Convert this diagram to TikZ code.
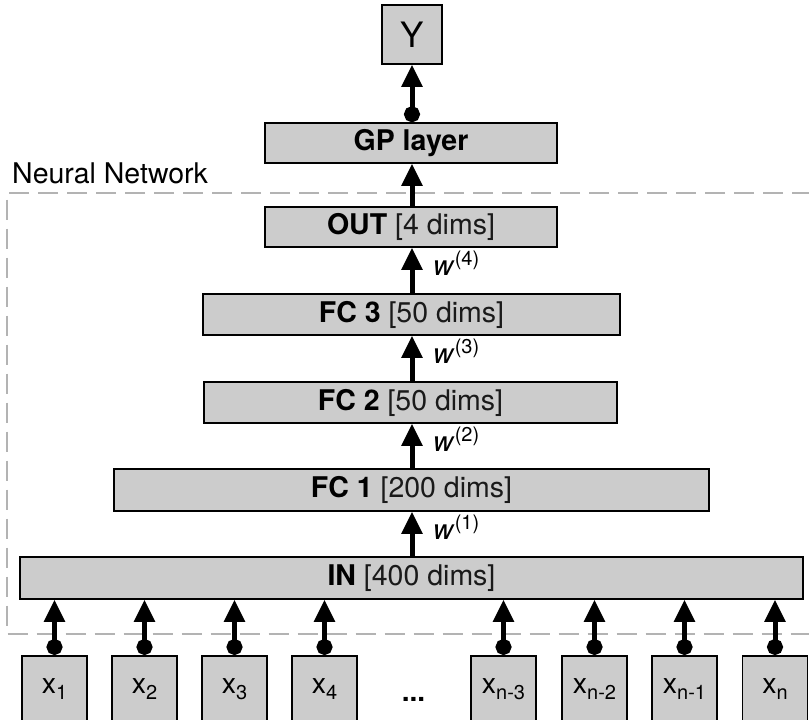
\documentclass[tikz,border=0pt]{standalone}
\usepackage{fontspec}
\setmainfont{TeX Gyre Heros}
\usetikzlibrary{arrows.meta}
\definecolor{boxgray}{HTML}{CCCCCC}
\definecolor{dashgray}{HTML}{B3B3B3}
\definecolor{dimtext}{HTML}{1A1A1A}
\newcommand{\mysub}[1]{\raisebox{-6.5pt}{\fontsize{20}{22}\selectfont #1}}
\newcommand{\mysup}[1]{\raisebox{10pt}{\fontsize{20}{22}\selectfont #1}}
\newcommand{\dims}[1]{\textcolor{dimtext}{#1}}
\begin{document}
\begin{tikzpicture}[x=1pt,y=-1pt,
  box/.style={draw=black, line width=1.5pt, fill=boxgray, inner sep=0pt,
    font=\fontsize{28.5}{32}\selectfont},
  xbox/.style={box, minimum width=65pt, minimum height=67pt, anchor=north},
  conn/.style={line width=5pt, -{Triangle[width=20pt,length=22pt]}},
  dotconn/.style={line width=5pt, {Circle[length=16pt]}-{Triangle[width=20pt,length=22pt]}},
  wlab/.style={anchor=base west, inner sep=0pt, font=\fontsize{28}{32}\selectfont},
  dashline/.style={draw=dashgray, line width=2pt, dash pattern=on 20pt off 9pt}]
\useasboundingbox (0,0) rectangle (809,720);

% dashed frame
\coordinate (ftl) at (7,192.5);
\coordinate (ftr) at (812,192.5);
\coordinate (fbl) at (7,634);
\coordinate (fbr) at (812,634);
\draw[dashline] (ftr) -- (ftl) -- (fbl) -- (fbr);
\node[anchor=base west, inner sep=0pt, font=\fontsize{28.5}{32}\selectfont] (nn) at (12,183) {Neural Network};

% boxes
\node[box, minimum width=60pt, minimum height=59pt, font=\fontsize{35}{38}\selectfont] (Y) at (412,34.5) {Y};
\node[box, minimum width=292pt, minimum height=40pt] (GP) at (411,143) {\textbf{GP layer}};
\node[box, minimum width=292pt, minimum height=40pt] (OUT) at (411,227) {\textbf{OUT} \dims{[4 dims]}};
\node[box, minimum width=417pt, minimum height=41pt] (FC3) at (411.5,314.5) {\textbf{FC 3} \dims{[50 dims]}};
\node[box, minimum width=413pt, minimum height=41pt] (FC2) at (410.5,402.5) {\textbf{FC 2} \dims{[50 dims]}};
\node[box, minimum width=595pt, minimum height=42pt] (FC1) at (411.5,490) {\textbf{FC 1} \dims{[200 dims]}};
\node[box, minimum width=783pt, minimum height=42pt] (IN) at (411.5,578) {\textbf{IN} \dims{[400 dims]}};

% inputs
\node[xbox] (x1) at (54.5,655) {x\mysub{1}};
\node[xbox] (x2) at (144.5,655) {x\mysub{2}};
\node[xbox] (x3) at (234.5,655) {x\mysub{3}};
\node[xbox] (x4) at (324.5,655) {x\mysub{4}};
\node[anchor=base, inner sep=0pt, font=\fontsize{28}{30}\selectfont\bfseries] (dots) at (413.5,701) {...};
\node[xbox] (xn3) at (503.5,655) {x\mysub{n-3}};
\node[xbox] (xn2) at (594.5,655) {x\mysub{n-2}};
\node[xbox] (xn1) at (684.5,655) {x\mysub{n-1}};
\node[xbox] (xn) at (775,655) {x\mysub{n}};

\foreach \n in {x1,x2,x3,x4,xn3,xn2,xn1,xn}
  \draw[dotconn] (\n.north) -- (\n.north |- IN.south);

% layer connectors
\draw[conn] (IN.north -| 412,0) -- (FC1.south -| 412,0);
\draw[conn] (FC1.north -| 412,0) -- (FC2.south -| 412,0);
\draw[conn] (FC2.north -| 412,0) -- (FC3.south -| 412,0);
\draw[conn] (FC3.north -| 412,0) -- (OUT.south -| 412,0);
\draw[conn] (OUT.north -| 412,0) -- (GP.south -| 412,0);
\draw[dotconn] (GP.north -| 412,0) -- (Y.south);

% weight labels
\node[wlab] (w4) at (433,275) {\textit{w}\mysup{(4)}};
\node[wlab] (w3) at (433,363) {\textit{w}\mysup{(3)}};
\node[wlab] (w2) at (433,451) {\textit{w}\mysup{(2)}};
\node[wlab] (w1) at (433,539) {\textit{w}\mysup{(1)}};
\end{tikzpicture}
\end{document}
